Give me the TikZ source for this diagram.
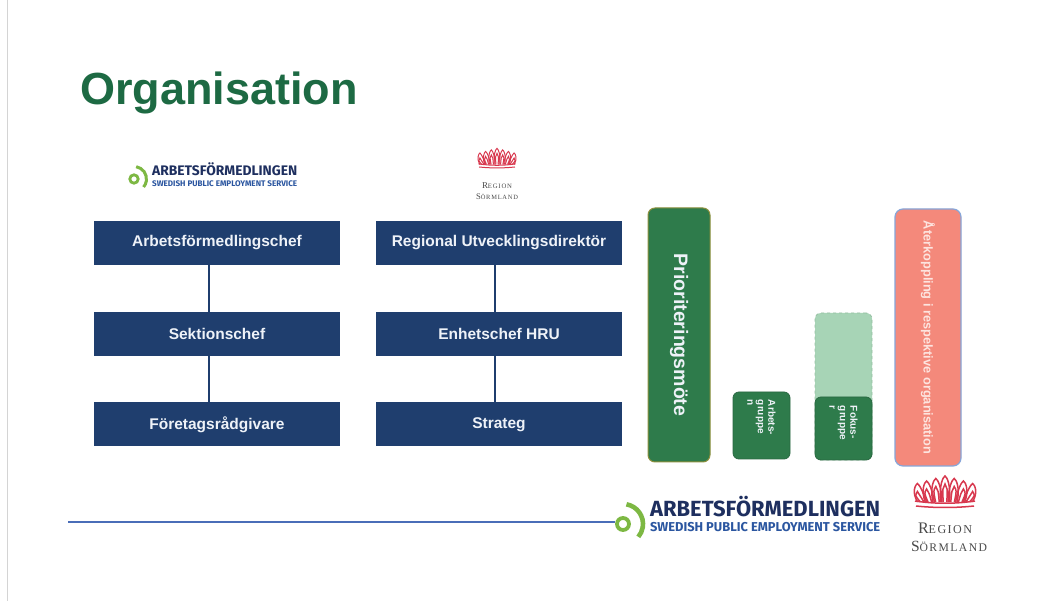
\documentclass[tikz,border=0pt]{standalone}
\usepackage{fontspec}
\setmainfont{Liberation Sans}
\newfontfamily\affont{Fira Sans}
\newfontfamily\regfont[LetterSpace=12]{Liberation Serif}
\definecolor{navybox}{HTML}{1F3E6E}
\definecolor{titlegreen}{HTML}{1D6A43}
\definecolor{priogreen}{HTML}{2E7B4B}
\definecolor{prioedge}{HTML}{8C8F3C}
\definecolor{smallgreenedge}{HTML}{2A6842}
\definecolor{lightgr}{HTML}{A7D4B6}
\definecolor{lightgredge}{HTML}{95BFA2}
\definecolor{salmonfill}{HTML}{F4897B}
\definecolor{salmonedge}{HTML}{86A6DA}
\definecolor{salmontext}{HTML}{FDE4DF}
\definecolor{afgreen}{HTML}{7DB843}
\definecolor{afnavy}{HTML}{1E2F5F}
\definecolor{afblue}{HTML}{2B56A0}
\definecolor{crownred}{HTML}{D8384E}
\definecolor{regiongray}{HTML}{4A4A4A}
\definecolor{lineblue}{HTML}{4A6DB8}
\definecolor{edgegray}{HTML}{D4D4D4}
\definecolor{boxtext}{HTML}{EEF2F8}
\tikzset{
  orgbox/.style={fill=navybox, draw=none, minimum width=246pt, minimum height=44pt,
    inner sep=0pt, text=boxtext, font=\bfseries\fontsize{15.5}{15.5}\selectfont},
  conn/.style={draw=navybox, line width=1.3pt},
  priobox/.style={fill=priogreen, draw=prioedge, line width=1pt, rounded corners=7pt,
    rotate=-90, inner sep=0pt, text=boxtext, font=\bfseries\fontsize{19.5}{19.5}\selectfont},
  smallbox/.style={fill=priogreen, draw=smallgreenedge, line width=0.8pt, rounded corners=6pt,
    rotate=-90, inner sep=0pt, align=left, text=boxtext, font=\bfseries\fontsize{10}{10.5}\selectfont},
  lightbox/.style={fill=lightgr, draw=lightgredge, dashed, line width=0.8pt, rounded corners=6pt, inner sep=0pt},
  salmonbox/.style={fill=salmonfill, draw=salmonedge, line width=1.2pt, rounded corners=8pt,
    rotate=-90, inner sep=0pt, text=salmontext, font=\bfseries\fontsize{12.8}{12.8}\selectfont},
  blueline/.style={draw=lineblue, line width=2pt},
  logotext/.style={inner sep=0pt, anchor=base west},
  regtext/.style={inner sep=0pt, anchor=base, text=regiongray},
  crownline/.style={draw=crownred, line width=1.5pt},
  crown/.pic={
    \foreach \k in {-3,...,3}{
      \pgfmathsetmacro\cx{7.6*\k}
      \pgfmathsetmacro\ox{1.6*\k}
      \pgfmathsetmacro\tp{30-2.5*abs(\k)}
      \draw[crownline] (\cx-4.5,4) .. controls (\cx-6+\ox,\tp-9) and (\cx-2+\ox,\tp-1) .. (\cx+\ox,\tp)
        .. controls (\cx+2+\ox,\tp-1) and (\cx+6+\ox,\tp-9) .. (\cx+4.5,4);
      \draw[crownline] (\cx-1.8,4) .. controls (\cx-2.5+\ox,\tp-12) .. (\cx+\ox,\tp-8)
        .. controls (\cx+2.5+\ox,\tp-12) .. (\cx+1.8,4);
    }
    \draw[crownline] (-30,5) .. controls (-10,2) and (10,2) .. (30,5);
    \draw[crownline] (-29,0) .. controls (-10,-2) and (10,-2) .. (29,0);
  }
}
\begin{document}
\begin{tikzpicture}[x=1pt,y=1pt]
\useasboundingbox (0,0) rectangle (1037,-601);
\fill[white] (0,0) rectangle (1037,-601);
\draw[edgegray, line width=1pt] (7,0) -- (7,-601);

% title
\node[anchor=base west, inner sep=0pt, text=titlegreen, font=\bfseries\fontsize{45}{45}\selectfont] (title) at (80,-105) {Organisation};

% top logos
\draw[afgreen, line width=2.8pt] (134,-179) circle (4.2pt);
\draw[afgreen, line width=3pt] (134,-179) ++(80:12.5pt) arc[start angle=80, end angle=-40, radius=12.5pt];
\node[logotext, text=afnavy] (aftop) at (152,-176) {\resizebox{145pt}{!}{\affont\bfseries ARBETSFÖRMEDLINGEN}};
\node[logotext, text=afblue] (afsubtop) at (152,-187) {\resizebox{145pt}{!}{\affont\bfseries SWEDISH PUBLIC EMPLOYMENT SERVICE}};
\pic[scale=0.62, crownline/.append style={line width=1pt}] at (497,-167) {crown};
\node[regtext] (regtop) at (497,-189) {\resizebox{30pt}{!}{\regfont{\fontsize{12}{12}\selectfont R}{\fontsize{9}{9}\selectfont EGION}}};
\node[regtext] (sormtop) at (497,-200) {\resizebox{42pt}{!}{\regfont{\fontsize{12}{12}\selectfont S}{\fontsize{9}{9}\selectfont ÖRMLAND}}};

% left hierarchy
\node[orgbox] (a1) at (217,-243) {Arbetsförmedlingschef};
\node[orgbox] (a2) at (217,-334) {Sektionschef};
\node[orgbox] (a3) at (217,-424.5) {Företagsrådgivare};
\draw[conn] ([xshift=-8pt]a1.south) -- ([xshift=-8pt]a2.north);
\draw[conn] ([xshift=-8pt]a2.south) -- ([xshift=-8pt]a3.north);

% right hierarchy
\node[orgbox] (r1) at (499,-243) {Regional Utvecklingsdirektör};
\node[orgbox] (r2) at (499,-334) {Enhetschef HRU};
\node[orgbox] (r3) at (499,-424.5) {Strateg};
\draw[conn] ([xshift=-4pt]r1.south) -- ([xshift=-4pt]r2.north);
\draw[conn] ([xshift=-4pt]r2.south) -- ([xshift=-4pt]r3.north);

% green vertical boxes
\node[priobox, minimum width=254pt, minimum height=62pt] (prio) at (679,-335) {Prioriteringsmöte};
\node[smallbox, minimum width=67pt, minimum height=57pt, text width=51pt] (ag) at (761.5,-425.5) {Arbets-\\gruppe\\n};
\node[lightbox, minimum width=57pt, minimum height=147pt] (fl) at (843.5,-386.5) {};
\node[smallbox, minimum width=63pt, minimum height=57pt, text width=45pt] (fg) at (843.5,-428.5) {Fokus-\\gruppe\\r};
\node[salmonbox, minimum width=257pt, minimum height=66pt] (aterk) at (928,-337.5) {Återkoppling i respektive organisation};

% bottom band
\coordinate (ls) at (68,-522);
\coordinate (le) at (615,-522);
\draw[blueline] (ls) -- (le);
\draw[afgreen, line width=3.8pt] (623,-524) circle (6pt);
\draw[afgreen, line width=4.6pt] (623,-524) ++(80:20pt) arc[start angle=80, end angle=-40, radius=20pt];
\node[logotext, text=afnavy] (afbot) at (650,-517) {\resizebox{230pt}{!}{\affont\bfseries ARBETSFÖRMEDLINGEN}};
\node[logotext, text=afblue] (afsubbot) at (650,-532) {\resizebox{230pt}{!}{\affont\bfseries SWEDISH PUBLIC EMPLOYMENT SERVICE}};
\pic at (945,-506) {crown};
\node[regtext] (regbot) at (945,-533) {\resizebox{54pt}{!}{\regfont{\fontsize{12}{12}\selectfont R}{\fontsize{9}{9}\selectfont EGION}}};
\node[regtext] (sormbot) at (949,-551) {\resizebox{76pt}{!}{\regfont{\fontsize{12}{12}\selectfont S}{\fontsize{9}{9}\selectfont ÖRMLAND}}};
\end{tikzpicture}
\end{document}
